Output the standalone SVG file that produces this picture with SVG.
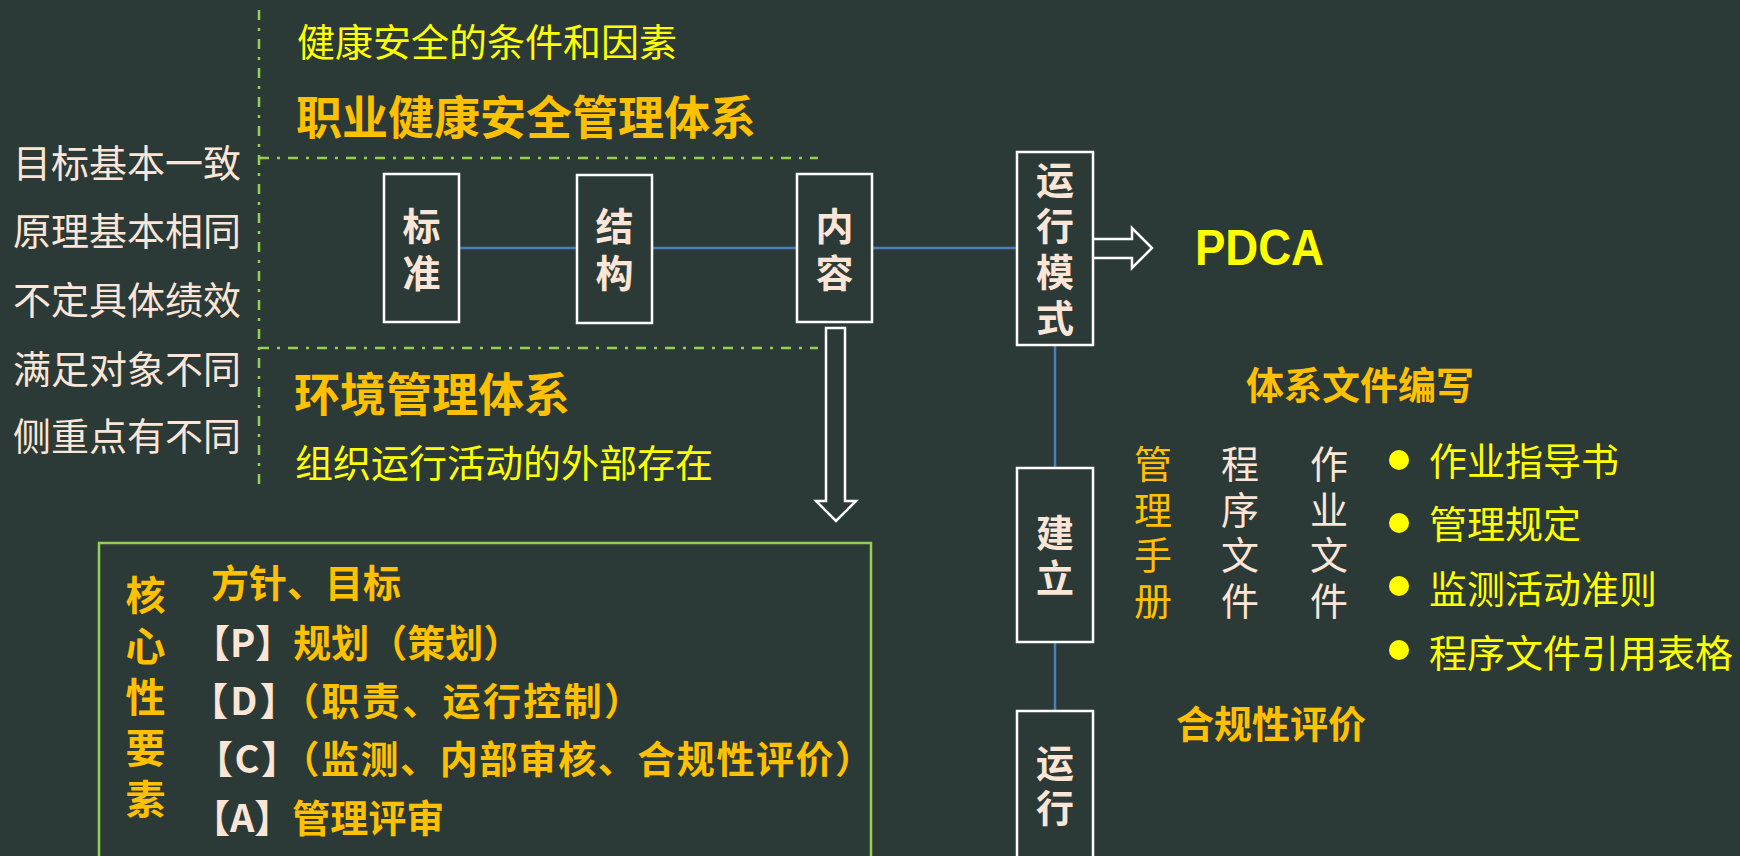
<svg xmlns="http://www.w3.org/2000/svg" width="1740" height="856" viewBox="0 0 1740 856">
<style>
text{font-family:"Noto Sans CJK SC","Noto Sans",sans-serif;}
.cream{fill:#FBE5D6;}
.org{fill:#FFC000;}
.yel{fill:#FFFF00;}
.b{font-weight:bold;}
.s38{font-size:38px;}
.s46{font-size:46px;}
.v{writing-mode:vertical-rl;text-orientation:upright;}
.box{fill:none;stroke:#FFFFFF;stroke-width:2.5;}
.conn{stroke:#4A7EBB;stroke-width:2.5;fill:none;}
.dash{stroke:#92D050;stroke-width:2.5;fill:none;stroke-dasharray:10 8 3 8;}
.hollow{fill:none;stroke:#FFFFFF;stroke-width:2.5;stroke-linejoin:miter;}
.mid{text-anchor:middle;}
</style>
<rect x="0" y="0" width="1740" height="856" fill="#2C3A37"/>

<g id="dividers">
<line class="dash" x1="259" y1="10" x2="259" y2="490"/>
<line class="dash" x1="259" y1="158" x2="818" y2="158"/>
<line class="dash" x1="259" y1="348" x2="818" y2="348"/>
</g>

<g id="left-list" class="cream s38">
<text x="13" y="177">目标基本一致</text>
<text x="13" y="245">原理基本相同</text>
<text x="13" y="314">不定具体绩效</text>
<text x="13" y="383">满足对象不同</text>
<text x="13" y="450">侧重点有不同</text>
</g>

<g id="headings">
<text class="yel s38" x="297" y="56">健康安全的条件和因素</text>
<text class="org b s46" x="296" y="134">职业健康安全管理体系</text>
<text class="org b s46" x="294" y="411">环境管理体系</text>
<text class="yel s38" x="295" y="477">组织运行活动的外部存在</text>
</g>

<g id="connectors">
<line class="conn" x1="459" y1="248" x2="577" y2="248"/>
<line class="conn" x1="652" y1="248" x2="797" y2="248"/>
<line class="conn" x1="872" y1="248" x2="1017" y2="248"/>
<line class="conn" x1="1055" y1="345" x2="1055" y2="468"/>
<line class="conn" x1="1055" y1="642" x2="1055" y2="711"/>
<path class="hollow" d="M826,328 H845 V501 H856 L836,521 L816,501 H826 Z"/>
<path class="hollow" d="M1093,239 H1132 V228 L1152,248 L1132,268 V258 H1093"/>
</g>

<g id="node-biaozhun">
<rect class="box" x="384" y="174" width="75" height="148"/>
<text class="cream b s38 v" x="421.5" y="206.5" letter-spacing="9">标准</text>
</g>
<g id="node-jiegou">
<rect class="box" x="577" y="175" width="75" height="148"/>
<text class="cream b s38 v" x="614.5" y="206.5" letter-spacing="9">结构</text>
</g>
<g id="node-neirong">
<rect class="box" x="797" y="174" width="75" height="148"/>
<text class="cream b s38 v" x="834.5" y="206.5" letter-spacing="9">内容</text>
</g>
<g id="node-yunxingmoshi">
<rect class="box" x="1017" y="152" width="76" height="193"/>
<text class="cream b s38 v" x="1055" y="160.5" letter-spacing="8">运行模式</text>
</g>
<g id="node-pdca">
<text x="1195" y="265" font-weight="bold" font-size="50" fill="#FFFF00" textLength="129" lengthAdjust="spacingAndGlyphs" style="font-family:'Liberation Sans',Arial,sans-serif">PDCA</text>
</g>
<g id="node-jianli">
<rect class="box" x="1017" y="468" width="76" height="174"/>
<text class="cream b s38 v" x="1055" y="513.5" letter-spacing="7">建立</text>
</g>
<g id="node-yunxing">
<rect class="box" x="1017" y="711" width="76" height="170"/>
<text class="cream b s38 v" x="1055" y="743.5" letter-spacing="7">运行</text>
</g>

<g id="docs">
<text class="org b s38" x="1246" y="399">体系文件编写</text>
<text class="org s38 v" x="1153" y="444.5" letter-spacing="7.7">管理手册</text>
<text class="cream s38 v" x="1240" y="444.5" letter-spacing="7.7">程序文件</text>
<text class="cream s38 v" x="1329" y="444.5" letter-spacing="7.7">作业文件</text>
<g fill="#FFFF00">
<circle cx="1399" cy="460" r="10"/>
<circle cx="1399" cy="523" r="10"/>
<circle cx="1399" cy="586" r="10"/>
<circle cx="1399" cy="650" r="10"/>
</g>
<g class="yel s38">
<text x="1429" y="475">作业指导书</text>
<text x="1429" y="538">管理规定</text>
<text x="1429" y="603">监测活动准则</text>
<text x="1429" y="667">程序文件引用表格</text>
</g>
<text class="org b s38" x="1176" y="738">合规性评价</text>
</g>

<g id="core-elements">
<rect x="99" y="543" width="772" height="340" fill="none" stroke="#92D050" stroke-width="2.5"/>
<text class="org b v" font-size="40" x="145.5" y="575" letter-spacing="11">核心性要素</text>
<g class="b s38">
<text class="org" x="211" y="597">方针、目标</text>
<text x="192" y="657"><tspan class="cream">【P】</tspan><tspan class="org">规划（策划）</tspan></text>
<text x="190" y="715" textLength="452" lengthAdjust="spacing"><tspan class="cream">【D】</tspan><tspan class="org">（职责、运行控制）</tspan></text>
<text x="195" y="773" textLength="678" lengthAdjust="spacing"><tspan class="cream">【C】</tspan><tspan class="org">（监测、内部审核、合规性评价）</tspan></text>
<text x="192" y="832"><tspan class="cream">【A】</tspan><tspan class="org">管理评审</tspan></text>
</g>
</g>
</svg>
